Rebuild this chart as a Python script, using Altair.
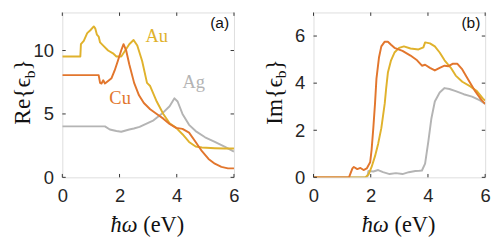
import altair as alt
import pandas as pd

# ---------------- data ----------------
x_ticks = [0, 2, 4, 6]
re_yticks = [0, 5, 10]
im_yticks = [0, 2, 4, 6]

# Re{eps_b}
au_re_x = [0, 0.63, 0.65, 0.75, 0.87, 0.98, 1.1, 1.15, 1.21, 1.27, 1.32, 1.43, 1.6, 1.77, 1.89, 2.06, 2.17, 2.34, 2.49,
           2.62, 2.79, 2.96, 3.07, 3.3, 3.53, 3.75, 3.98, 4.2, 4.43, 4.66, 4.88, 5.33, 5.67, 6.0]
au_re_y = [9.53, 9.53, 10.5, 10.76, 11.37, 11.6, 11.9, 11.75, 11.25, 11.1, 10.64, 10.39, 10.0, 9.78, 9.53, 9.53, 9.9,
           10.5, 10.83, 10.39, 9.17, 7.45, 7.2, 5.98, 5.0, 4.26, 3.9, 3.4, 2.79, 2.43, 2.35, 2.3, 2.27, 2.27]

cu_re_x = [0, 1.27, 1.32, 1.37, 1.43, 1.49, 1.6, 1.72, 1.83, 1.94, 2.06, 2.14, 2.23, 2.34, 2.51, 2.68, 2.85, 3.07,
           3.3, 3.53, 3.75, 3.98, 4.2, 4.43, 4.66, 4.88, 5.11, 5.33, 5.56, 5.79, 6.0]
cu_re_y = [8.06, 8.06, 7.45, 7.4, 7.65, 7.4, 7.6, 7.82, 8.43, 9.17, 10.02, 10.5, 10.02, 8.92, 7.45, 6.47, 5.86, 5.37,
           5.0, 4.63, 4.21, 3.9, 3.82, 3.53, 2.79, 2.06, 1.45, 1.08, 0.83, 0.71, 0.71]

ag_re_x = [0, 1.49, 1.66, 1.89, 2.06, 2.34, 2.5, 2.7, 2.85, 3.19, 3.53, 3.75, 3.92, 4.03, 4.2, 4.43, 4.66, 4.99, 5.33,
           5.67, 6.0]
ag_re_y = [4.02, 4.02, 3.77, 3.65, 3.6, 3.77, 3.85, 3.98, 4.14, 4.5, 5.12, 5.61, 6.23, 5.98, 5.0, 4.14, 3.65, 3.16,
           2.79, 2.43, 2.03]

# Im{eps_b}
au_im_x = [0, 1.81, 1.92, 2.03, 2.15, 2.26, 2.37, 2.49, 2.54, 2.6, 2.71, 2.83, 2.99, 3.16, 3.39, 3.67, 3.84, 3.9,
           4.07, 4.24, 4.41, 4.58, 4.8, 4.97, 5.2, 5.48, 5.71, 5.93, 6.0]
au_im_y = [0, 0, 0.12, 0.44, 0.9, 1.43, 2.09, 3.14, 3.79, 4.45, 4.97, 5.3, 5.5, 5.56, 5.47, 5.43, 5.52, 5.73, 5.69,
           5.56, 5.3, 4.97, 4.65, 4.32, 4.06, 3.86, 3.66, 3.33, 3.27]

cu_im_x = [0, 1.24, 1.36, 1.41, 1.53, 1.64, 1.75, 1.86, 1.98, 2.03, 2.09, 2.15, 2.2, 2.29, 2.37, 2.49, 2.6, 2.71,
           2.83, 3.11, 3.39, 3.62, 3.79, 3.9, 4.07, 4.24, 4.41, 4.58, 4.72, 4.86, 5.03, 5.2, 5.42, 5.65, 5.88, 6.0]
cu_im_y = [0, 0, 0.38, 0.44, 0.35, 0.4, 0.31, 0.38, 0.64, 1.17, 2.09, 3.14, 4.19, 5.1, 5.56, 5.76, 5.76, 5.63,
           5.5, 5.37, 5.17, 4.97, 4.74, 4.78, 4.65, 4.54, 4.65, 4.74, 4.72, 4.82, 4.82, 4.58, 4.12, 3.66, 3.27, 3.12]

ag_im_x = [0, 1.88, 1.92, 2.09, 2.26, 2.43, 2.66, 2.88, 3.11, 3.33, 3.56, 3.7, 3.79, 3.9, 4.01, 4.12, 4.24, 4.41,
           4.58, 4.75, 4.97, 5.25, 5.54, 5.82, 6.0]
ag_im_y = [0, 0, 0.27, 0.25, 0.31, 0.22, 0.14, 0.18, 0.14, 0.22, 0.27, 0.28, 0.29, 0.58, 1.5, 2.5, 3.22, 3.6,
           3.79, 3.75, 3.66, 3.53, 3.43, 3.27, 3.12]

metals = ["Ag", "Au", "Cu"]          # drawing order (bottom -> top)
colors = ["#B4B4B4", "#E0B22C", "#E2762D"]
label_colors = ["#BBBBBB", "#E0B22C", "#E2762D"]


def long_df(series):
    rows = []
    for name, xs, ys in series:
        for i, (a, b) in enumerate(zip(xs, ys)):
            rows.append({"metal": name, "x": a, "y": b, "i": i})
    return pd.DataFrame(rows)


re_df = long_df([("Ag", ag_re_x, ag_re_y), ("Au", au_re_x, au_re_y), ("Cu", cu_re_x, cu_re_y)])
im_df = long_df([("Ag", ag_im_x, ag_im_y), ("Au", au_im_x, au_im_y), ("Cu", cu_im_x, cu_im_y)])

# annotation anchors (data units) for panel (a)
ann_df = pd.DataFrame({"metal": ["Au", "Cu", "Ag"], "x": [3.3, 2.02, 4.59], "y": [10.66, 5.8, 7.06]})

# ---------------- style ----------------
W, H = 177, 170
FRAME = "#333333"
SANS = "Liberation Sans"
SERIF = "Liberation Serif"
TICK = 3.5


def panel(df, ymax, yticks, ylabel, tag, title_x, ann=None):
    xs = alt.Scale(domain=[0, 6], nice=False)
    ys = alt.Scale(domain=[0, ymax], nice=False)
    xaxis = alt.Axis(values=x_ticks, ticks=False, tickSize=0, domain=False, grid=False, labelFont=SANS,
                     labelFontSize=19, labelColor="#262626", labelPadding=10, title=None, labelFlush=False)
    yaxis = alt.Axis(values=yticks, ticks=False, tickSize=0, domain=False, grid=False, labelFont=SANS,
                     labelFontSize=19, labelColor="#262626", labelPadding=9, title=None, labelFlush=False)

    lines = alt.Chart(df).mark_line(strokeWidth=2, strokeJoin="round", clip=True).encode(
        x=alt.X("x:Q", scale=xs, axis=xaxis),
        y=alt.Y("y:Q", scale=ys, axis=yaxis),
        color=alt.Color("metal:N", scale=alt.Scale(domain=metals, range=colors), legend=None),
        order="i:Q",
        detail="metal:N",
    )

    xt = alt.Chart(pd.DataFrame({"v": x_ticks})).encode(x=alt.X("v:Q", scale=xs))
    yt = alt.Chart(pd.DataFrame({"v": yticks})).encode(y=alt.Y("v:Q", scale=ys))
    rule = dict(color=FRAME, strokeWidth=1)
    ticks = [
        xt.mark_rule(**rule).encode(y=alt.value(H), y2=alt.value(H - TICK)),
        xt.mark_rule(**rule).encode(y=alt.value(0), y2=alt.value(TICK)),
        yt.mark_rule(**rule).encode(x=alt.value(0), x2=alt.value(TICK)),
        yt.mark_rule(**rule).encode(x=alt.value(W), x2=alt.value(W - TICK)),
    ]

    tag_mark = alt.Chart(pd.DataFrame({"t": [tag]})).mark_text(
        align="right", baseline="top", font=SANS, fontSize=16, color="#111111"
    ).encode(x=alt.value(W - 5), y=alt.value(3), text="t:N")

    # y title pieces: main, subscript b, closing brace (rotated)
    fs = 24
    cy = 83
    w_main, w_b, w_close = 50, 8, 11.5
    total = w_main + w_b + w_close
    y1 = cy - total / 2 + w_close + w_b
    t1 = alt.Chart(pd.DataFrame({"t": [ylabel]})).mark_text(
        angle=270, align="right", baseline="alphabetic", font=SERIF, fontSize=fs, color="#111111"
    ).encode(x=alt.value(title_x), y=alt.value(y1), text="t:N")
    t2 = alt.Chart(pd.DataFrame({"t": ["b"]})).mark_text(
        angle=270, align="left", baseline="alphabetic", font=SERIF, fontSize=16, color="#111111"
    ).encode(x=alt.value(title_x + 5), y=alt.value(y1), text="t:N")
    t3 = alt.Chart(pd.DataFrame({"t": ["}"]})).mark_text(
        angle=270, align="left", baseline="alphabetic", font=SERIF, fontSize=fs, color="#111111"
    ).encode(x=alt.value(title_x), y=alt.value(y1 - w_b), text="t:N")

    # x title
    xt1 = alt.Chart(pd.DataFrame({"t": ["ħω"]})).mark_text(
        align="right", baseline="alphabetic", font=SERIF, fontSize=23, fontStyle="italic", color="#111111"
    ).encode(x=alt.value(W / 2 - 11), y=alt.value(H + 56), text="t:N")
    xt2 = alt.Chart(pd.DataFrame({"t": ["(eV)"]})).mark_text(
        align="left", baseline="alphabetic", font=SERIF, fontSize=23, color="#111111"
    ).encode(x=alt.value(W / 2 - 5), y=alt.value(H + 56), text="t:N")

    layers = [lines] + ticks + [tag_mark, t1, t2, t3, xt1, xt2]
    if ann is not None:
        layers.append(
            alt.Chart(ann).mark_text(font=SERIF, fontSize=19, baseline="alphabetic", align="center").encode(
                x=alt.X("x:Q", scale=xs),
                y=alt.Y("y:Q", scale=ys),
                text="metal:N",
                color=alt.Color("metal:N", scale=alt.Scale(domain=metals, range=label_colors), legend=None),
            )
        )
    return alt.layer(*layers).properties(width=W, height=H)


pa = panel(re_df, 13, re_yticks, "Re{ϵ", "(a)", -33, ann_df)
pb = panel(im_df, 7, im_yticks, "Im{ϵ", "(b)", -33)

chart = alt.hconcat(pa, pb, spacing=23).resolve_scale(color="independent").properties(
    padding={"left": 3, "top": 0, "right": 0, "bottom": 0}
).configure_view(stroke=FRAME, strokeWidth=1).configure(background="white")

chart.save("out.html", embed_options={"renderer": "svg", "actions": False})
